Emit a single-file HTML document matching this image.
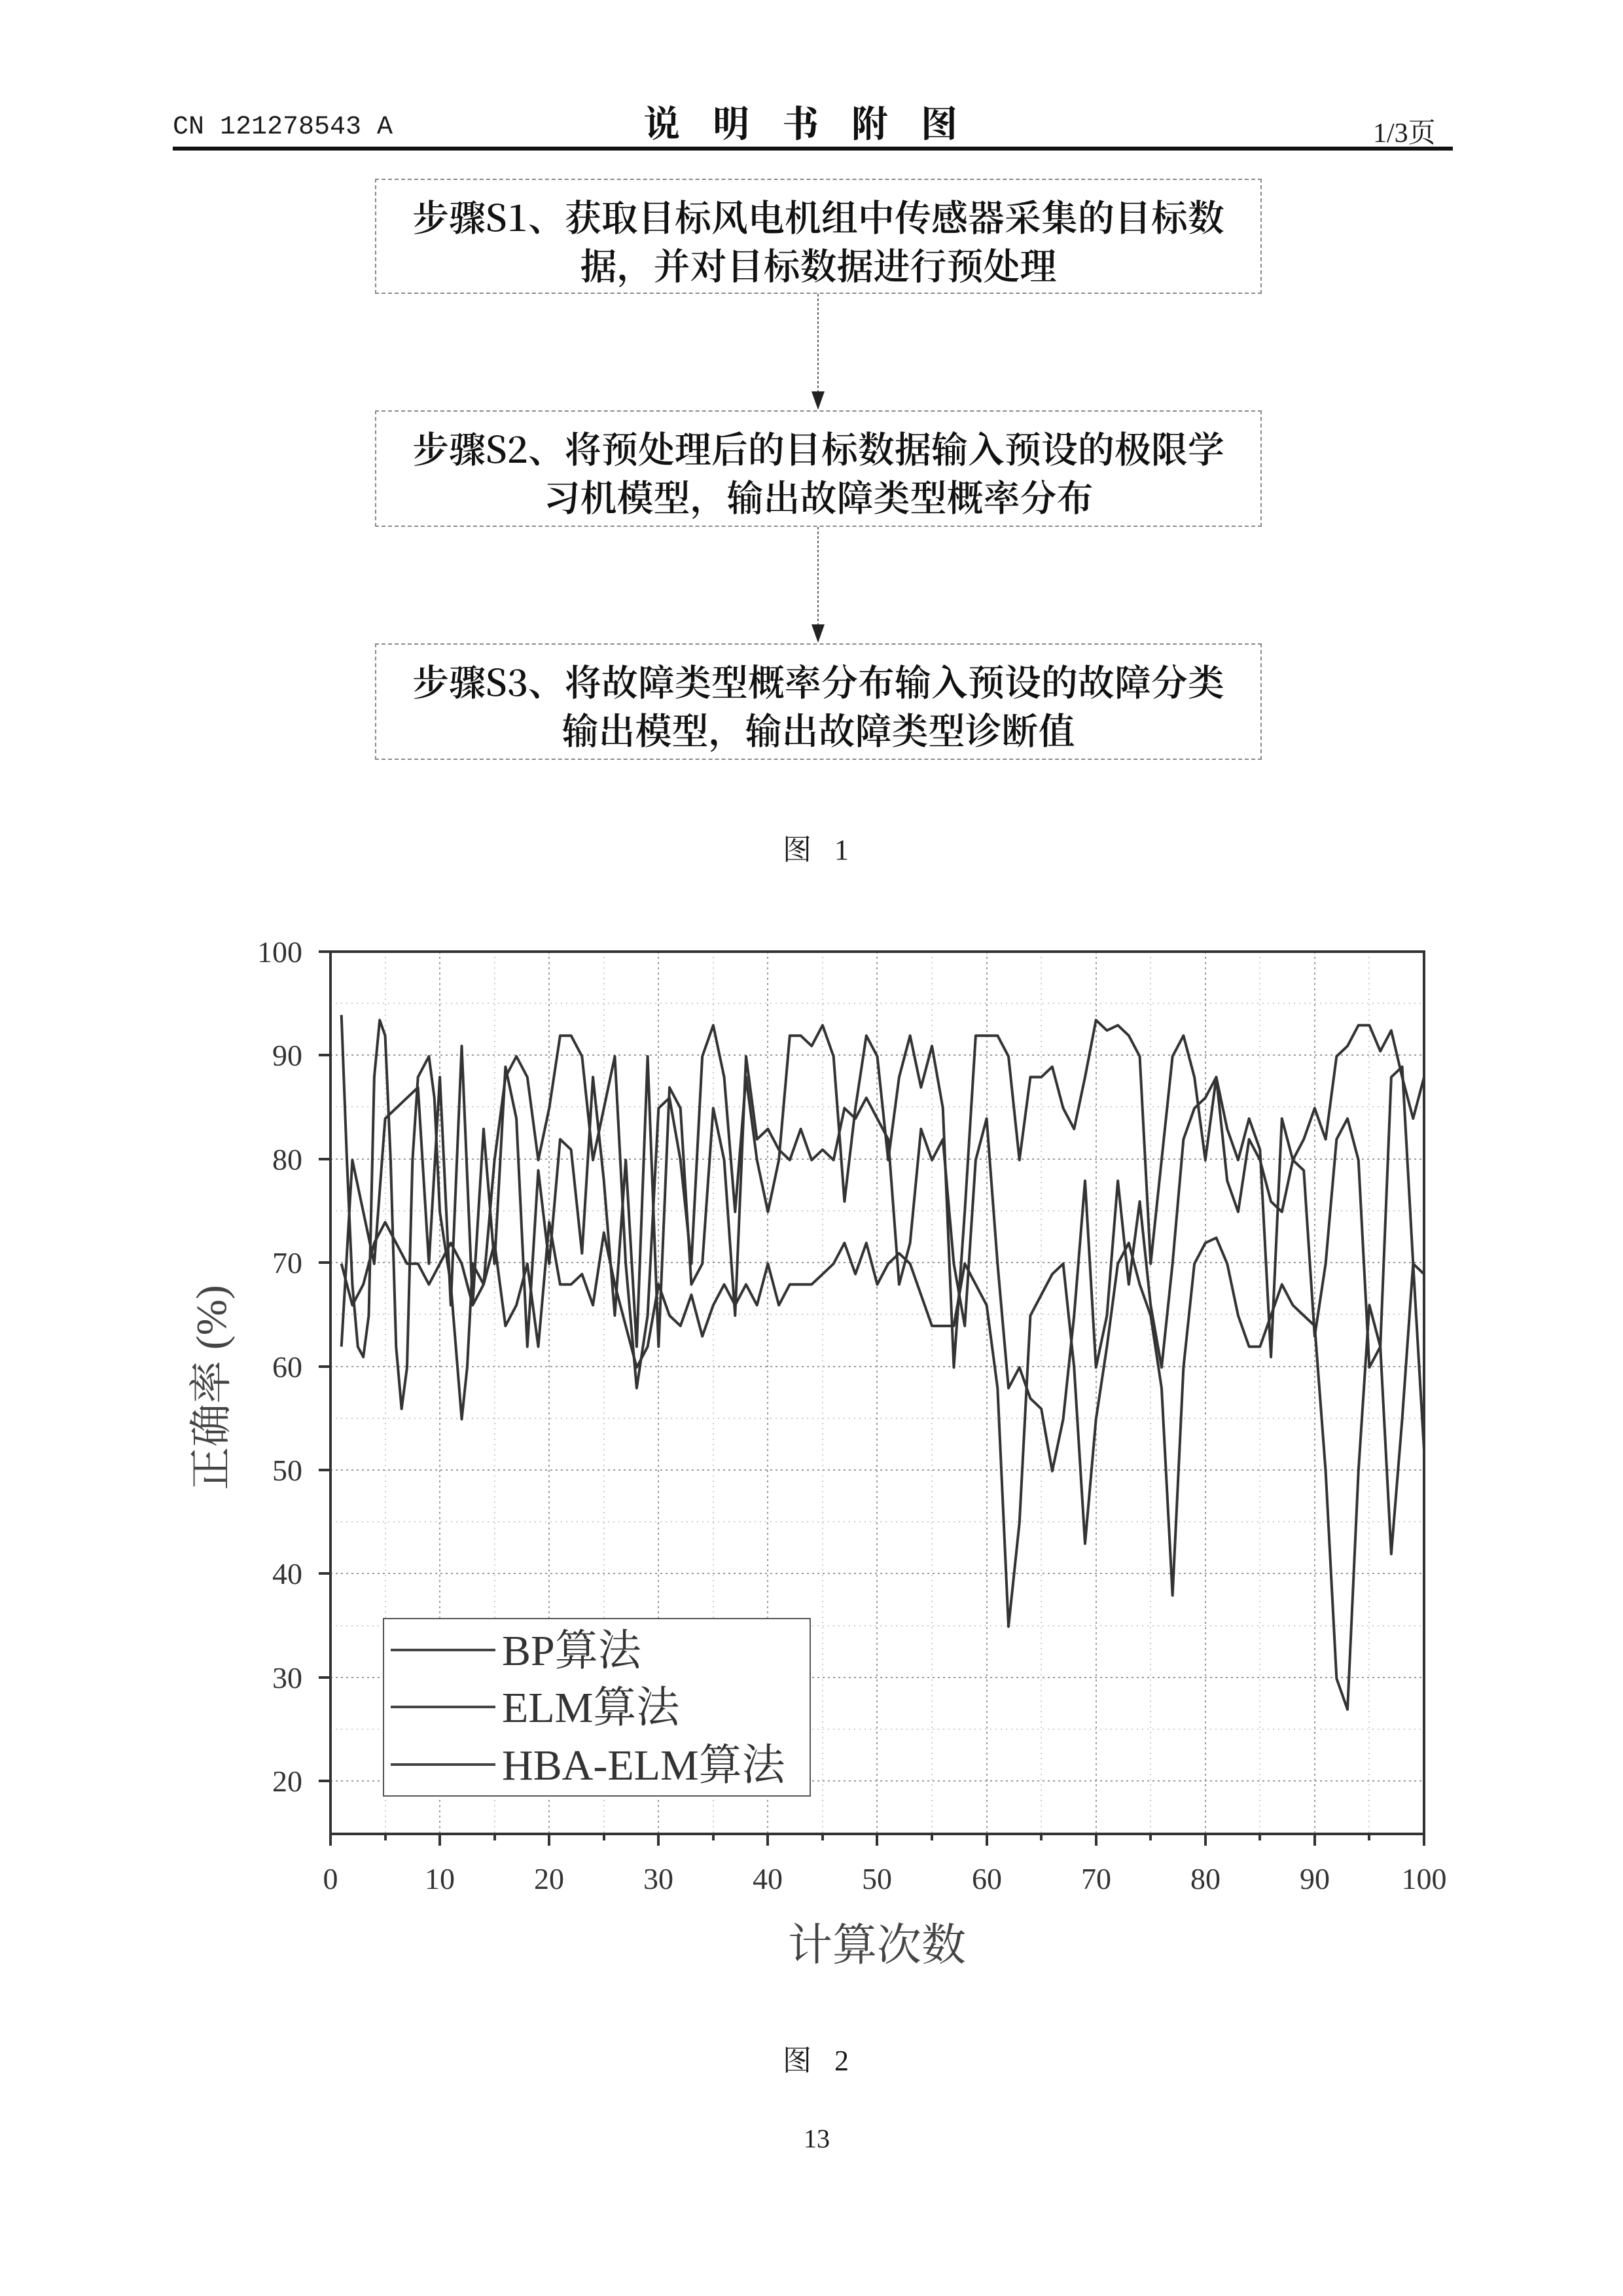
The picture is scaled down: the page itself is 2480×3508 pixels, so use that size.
<!DOCTYPE html>
<html><head><meta charset="utf-8"><style>
body{margin:0;background:#fff;}
.pg{position:relative;width:2480px;height:3508px;background:#fff;font-family:"Liberation Serif","Noto Serif CJK SC","Noto Sans CJK SC",serif;color:#1a1a1a;overflow:hidden}
.a{position:absolute;white-space:nowrap}
.box{position:absolute;left:573px;width:1355px;border:2px dashed #888;box-sizing:border-box;font-size:56px;text-align:center;line-height:74px;padding-top:18px;font-family:"Noto Serif CJK SC","Liberation Serif",serif;font-weight:600;color:#111}
</style></head><body><div class="pg">
<div class="a" style="left:264px;top:172px;font-size:40px;font-family:'Liberation Mono',monospace">CN 121278543 A</div>
<div class="a" style="left:983px;top:146px;font-size:56px;letter-spacing:50px;font-weight:bold;color:#111;font-family:'Noto Serif CJK SC','Noto Sans CJK SC',serif">说明书附图</div>
<div class="a" style="left:2098px;top:170px;font-size:42px;font-family:'Liberation Serif','Noto Serif CJK SC',serif">1/3页</div>
<div class="a" style="left:264px;top:224px;width:1956px;height:6px;background:#111"></div>

<div class="box" style="top:273px;height:176px">步骤S1、获取目标风电机组中传感器采集的目标数<br>据，并对目标数据进行预处理</div>
<div class="box" style="top:627px;height:178px">步骤S2、将预处理后的目标数据输入预设的极限学<br>习机模型，输出故障类型概率分布</div>
<div class="box" style="top:983px;height:178px">步骤S3、将故障类型概率分布输入预设的故障分类<br>输出模型，输出故障类型诊断值</div>
<svg class="a" style="left:0;top:0" width="2480" height="1300">
<line x1="1250" y1="449" x2="1250" y2="600" stroke="#666" stroke-width="2" stroke-dasharray="4,3"/>
<polygon points="1240,598 1260,598 1250,626" fill="#222"/>
<line x1="1250" y1="805" x2="1250" y2="956" stroke="#666" stroke-width="2" stroke-dasharray="4,3"/>
<polygon points="1240,954 1260,954 1250,982" fill="#222"/>
</svg>
<div class="a" style="left:1196px;top:1262px;font-size:44px;letter-spacing:12px">图 1</div>

<svg class="a" style="left:0;top:1380px" width="2480" height="1700" viewBox="0 1380 2480 1700">
<g stroke="#999" stroke-width="2" stroke-dasharray="3,5">
<line x1="672" y1="1454" x2="672" y2="2802"/><line x1="839" y1="1454" x2="839" y2="2802"/><line x1="1006" y1="1454" x2="1006" y2="2802"/><line x1="1173" y1="1454" x2="1173" y2="2802"/><line x1="1340" y1="1454" x2="1340" y2="2802"/><line x1="1508" y1="1454" x2="1508" y2="2802"/><line x1="1675" y1="1454" x2="1675" y2="2802"/><line x1="1842" y1="1454" x2="1842" y2="2802"/><line x1="2009" y1="1454" x2="2009" y2="2802"/>
<line x1="505" y1="1612" x2="2176" y2="1612"/><line x1="505" y1="1771" x2="2176" y2="1771"/><line x1="505" y1="1929" x2="2176" y2="1929"/><line x1="505" y1="2088" x2="2176" y2="2088"/><line x1="505" y1="2246" x2="2176" y2="2246"/><line x1="505" y1="2404" x2="2176" y2="2404"/><line x1="505" y1="2563" x2="2176" y2="2563"/><line x1="505" y1="2721" x2="2176" y2="2721"/>
</g>
<g stroke="#ccc" stroke-width="2" stroke-dasharray="2,6">
<line x1="589" y1="1454" x2="589" y2="2802"/><line x1="756" y1="1454" x2="756" y2="2802"/><line x1="923" y1="1454" x2="923" y2="2802"/><line x1="1090" y1="1454" x2="1090" y2="2802"/><line x1="1257" y1="1454" x2="1257" y2="2802"/><line x1="1424" y1="1454" x2="1424" y2="2802"/><line x1="1591" y1="1454" x2="1591" y2="2802"/><line x1="1758" y1="1454" x2="1758" y2="2802"/><line x1="1925" y1="1454" x2="1925" y2="2802"/><line x1="2092" y1="1454" x2="2092" y2="2802"/>
<line x1="505" y1="1533" x2="2176" y2="1533"/><line x1="505" y1="1691" x2="2176" y2="1691"/><line x1="505" y1="1850" x2="2176" y2="1850"/><line x1="505" y1="2008" x2="2176" y2="2008"/><line x1="505" y1="2167" x2="2176" y2="2167"/><line x1="505" y1="2325" x2="2176" y2="2325"/><line x1="505" y1="2484" x2="2176" y2="2484"/><line x1="505" y1="2642" x2="2176" y2="2642"/>
</g>
<g transform="translate(505,3039.6) scale(16.71,-15.84)" fill="none" stroke="#333" stroke-width="4" stroke-linejoin="round">
<polyline vector-effect="non-scaling-stroke" points="1,94 1.5,80 2,68 2.5,62 3,61 3.5,65 4,88 4.5,93.5 5,92 5.5,80 6,62 6.5,56 7,60 7.5,80 8,88 9,90 9.5,86 10,75 11,68 12,55 12.5,60 13,70 14,68 15,80 16,88 17,90 18,88 19,80 20,85 21,92 22,92 23,90 24,80 25,85 26,90 27,70 28,58 29,65 30,85 31,86 32,80 33,70 34,90 35,93 36,88 37,75 38,88 39,80 40,75 41,80 42,92 43,92 44,91 45,93 46,90 47,76 48,85 49,92 50,90 51,80 52,88 53,92 54,87 55,91 56,85 57,60 58,75 59,92 60,92 61,92 62,90 63,80 64,88 65,88 66,89 67,85 68,83 69,88 70,93.5 71,92.5 72,93 73,92 74,90 75,70 76,80 77,90 78,92 79,88 80,80 81,88 82,78 83,75 84,82 85,80 86,76 87,75 88,80 89,82 90,85 91,82 92,90 93,91 94,93 95,93 96,90.5 97,92.5 98,88 99,84 100,88"/>
<polyline vector-effect="non-scaling-stroke" points="1,70 2,66 3,68 4,72 5,74 6,72 7,70 8,70 9,68 10,70 11,72 12,70 13,66 14,68 15,72 16,64 17,66 18,70 19,62 20,74 21,68 22,68 23,69 24,66 25,73 26,68 27,64 28,60 29,62 30,68 31,65 32,64 33,67 34,63 35,66 36,68 37,66 38,68 39,66 40,70 41,66 42,68 43,68 44,68 45,69 46,70 47,72 48,69 49,72 50,68 51,70 52,71 53,70 54,67 55,64 56,64 57,64 58,70 59,68 60,66 61,58 62,35 63,45 64,65 65,67 66,69 67,70 68,60 69,43 70,55 71,62 72,70 73,72 74,68 75,65 76,58 77,38 78,60 79,70 80,72 81,72.5 82,70 83,65 84,62 85,62 86,65 87,68 88,66 89,65 90,64 91,50 92,30 93,27 94,50 95,66 96,62 97,42 98,55 99,70 100,52"/>
<polyline vector-effect="non-scaling-stroke" points="1,62 2,80 3,75 4,70 5,84 6,85 7,86 8,87 9,70 10,88 11,66 12,91 13,66 14,83 15,70 16,89 17,84 18,62 19,79 20,70 21,82 22,81 23,71 24,88 25,78 26,65 27,80 28,62 29,90 30,62 31,87 32,85 33,68 34,70 35,85 36,80 37,65 38,90 39,82 40,83 41,81 42,80 43,83 44,80 45,81 46,80 47,85 48,84 49,86 50,84 51,82 52,68 53,72 54,83 55,80 56,82 57,70 58,64 59,80 60,84 61,70 62,58 63,60 64,57 65,56 66,50 67,55 68,65 69,78 70,60 71,65 72,78 73,68 74,76 75,66 76,60 77,70 78,82 79,85 80,86 81,88 82,83 83,80 84,84 85,81 86,61 87,84 88,80 89,79 90,63 91,70 92,82 93,84 94,80 95,60 96,62 97,88 98,89 99,70 100,69"/>
</g>
<rect x="505" y="1454" width="1671" height="1348" fill="none" stroke="#333" stroke-width="4"/>
<g stroke="#333" stroke-width="4">
<line x1="505" y1="2802" x2="505" y2="2820"/><line x1="672" y1="2802" x2="672" y2="2820"/><line x1="839" y1="2802" x2="839" y2="2820"/><line x1="1006" y1="2802" x2="1006" y2="2820"/><line x1="1173" y1="2802" x2="1173" y2="2820"/><line x1="1340" y1="2802" x2="1340" y2="2820"/><line x1="1508" y1="2802" x2="1508" y2="2820"/><line x1="1675" y1="2802" x2="1675" y2="2820"/><line x1="1842" y1="2802" x2="1842" y2="2820"/><line x1="2009" y1="2802" x2="2009" y2="2820"/><line x1="2176" y1="2802" x2="2176" y2="2820"/>
<line x1="589" y1="2802" x2="589" y2="2812"/><line x1="756" y1="2802" x2="756" y2="2812"/><line x1="923" y1="2802" x2="923" y2="2812"/><line x1="1090" y1="2802" x2="1090" y2="2812"/><line x1="1257" y1="2802" x2="1257" y2="2812"/><line x1="1424" y1="2802" x2="1424" y2="2812"/><line x1="1591" y1="2802" x2="1591" y2="2812"/><line x1="1758" y1="2802" x2="1758" y2="2812"/><line x1="1925" y1="2802" x2="1925" y2="2812"/><line x1="2092" y1="2802" x2="2092" y2="2812"/>
<line x1="487" y1="1454" x2="505" y2="1454"/><line x1="487" y1="1612" x2="505" y2="1612"/><line x1="487" y1="1771" x2="505" y2="1771"/><line x1="487" y1="1929" x2="505" y2="1929"/><line x1="487" y1="2088" x2="505" y2="2088"/><line x1="487" y1="2246" x2="505" y2="2246"/><line x1="487" y1="2404" x2="505" y2="2404"/><line x1="487" y1="2563" x2="505" y2="2563"/><line x1="487" y1="2721" x2="505" y2="2721"/>
</g>
<g font-family="Liberation Serif,serif" font-size="46" fill="#333" text-anchor="end">
<text x="462" y="1470">100</text><text x="462" y="1628">90</text><text x="462" y="1787">80</text><text x="462" y="1945">70</text><text x="462" y="2104">60</text><text x="462" y="2262">50</text><text x="462" y="2420">40</text><text x="462" y="2579">30</text><text x="462" y="2737">20</text>
</g>
<g font-family="Liberation Serif,serif" font-size="46" fill="#333" text-anchor="middle">
<text x="505" y="2886">0</text><text x="672" y="2886">10</text><text x="839" y="2886">20</text><text x="1006" y="2886">30</text><text x="1173" y="2886">40</text><text x="1340" y="2886">50</text><text x="1508" y="2886">60</text><text x="1675" y="2886">70</text><text x="1842" y="2886">80</text><text x="2009" y="2886">90</text><text x="2176" y="2886">100</text>
</g>
<text x="1340" y="2995" text-anchor="middle" font-size="68" fill="#444" font-family="Noto Serif CJK SC,serif">计算次数</text>
<text transform="translate(345,2120) rotate(-90)" text-anchor="middle" font-size="66" fill="#444" font-family="Liberation Serif,Noto Serif CJK SC,serif">正确率 (%)</text>
<rect x="586" y="2473" width="652" height="271" fill="#fff" stroke="#555" stroke-width="2"/>
<g stroke="#444" stroke-width="4"><line x1="597" y1="2521" x2="757" y2="2521"/><line x1="597" y1="2608" x2="757" y2="2608"/><line x1="597" y1="2696" x2="757" y2="2696"/></g>
<g font-family="Liberation Serif,Noto Serif CJK SC,serif" font-size="66" fill="#333">
<text x="767" y="2544">BP算法</text><text x="767" y="2631">ELM算法</text><text x="767" y="2719">HBA-ELM算法</text>
</g>
</svg>
<div class="a" style="left:1196px;top:3112px;font-size:44px;letter-spacing:12px">图 2</div>
<div class="a" style="left:1228px;top:3244px;font-size:40px">13</div>
</div></body></html>
